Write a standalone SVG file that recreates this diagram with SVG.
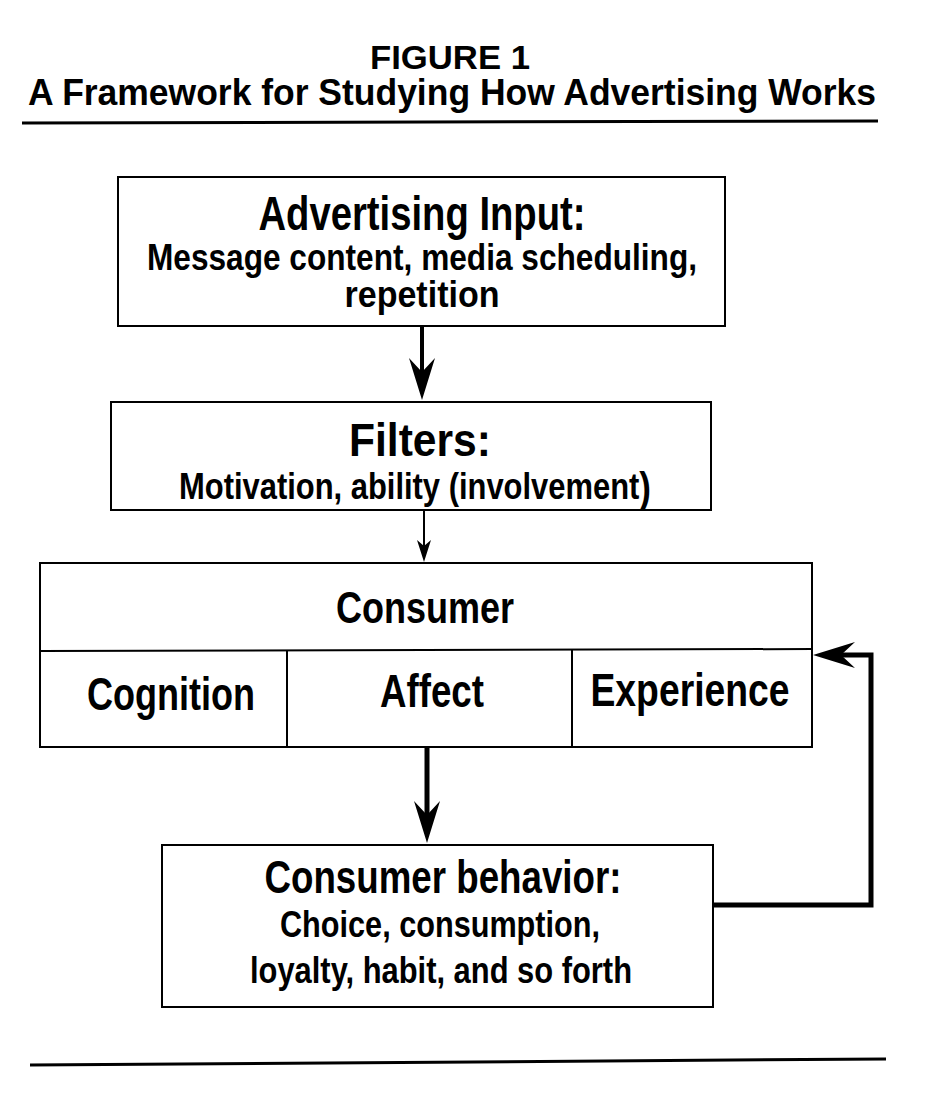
<svg xmlns="http://www.w3.org/2000/svg" width="928" height="1094" viewBox="0 0 928 1094">
<style>
.box{fill:#fff;stroke:#000;stroke-width:2}
.div{stroke:#000;stroke-width:2;fill:none}
.rule{stroke:#000;stroke-width:3;fill:none}
.t{font-family:"Liberation Sans",Arial,Helvetica,sans-serif;font-weight:bold;fill:#000;text-anchor:middle}
.conn{fill:none;stroke:#000;stroke-linejoin:miter}
.thick{stroke-width:5}
.thin{stroke-width:2}
</style>
<defs>
<marker id="ah" markerUnits="userSpaceOnUse" orient="auto" refX="0" refY="0" markerWidth="1" markerHeight="1" overflow="visible"><path d="M28,0 L-14,-13 L0,0 L-14,13 Z" fill="#000"/></marker>
<marker id="ahs" markerUnits="userSpaceOnUse" orient="auto" refX="0" refY="0" markerWidth="1" markerHeight="1" overflow="visible"><path d="M16,0 L-6,-7 L0,0 L-6,7 Z" fill="#000"/></marker>
</defs>
<rect width="928" height="1094" fill="#fff"/>
<g id="title">
<text class="t" x="450" y="69" font-size="34" textLength="160" lengthAdjust="spacingAndGlyphs">FIGURE 1</text>
<text class="t" x="452" y="105" font-size="37" textLength="848" lengthAdjust="spacingAndGlyphs">A Framework for Studying How Advertising Works</text>
<line class="rule" x1="22" y1="123" x2="878" y2="121"/>
</g>
<g id="advertising-input">
<rect class="box" x="118" y="177" width="607" height="149"/>
<text class="t" x="422" y="230" font-size="48" textLength="327" lengthAdjust="spacingAndGlyphs">Advertising Input:</text>
<text class="t" x="422" y="270" font-size="37" textLength="550" lengthAdjust="spacingAndGlyphs">Message content, media scheduling,</text>
<text class="t" x="422" y="307" font-size="37" textLength="155" lengthAdjust="spacingAndGlyphs">repetition</text>
</g>
<g id="filters">
<rect class="box" x="111" y="402" width="600" height="108"/>
<text class="t" x="420" y="456" font-size="46" textLength="142" lengthAdjust="spacingAndGlyphs">Filters:</text>
<text class="t" x="415" y="499" font-size="37" textLength="472" lengthAdjust="spacingAndGlyphs">Motivation, ability (involvement<tspan font-size="42" dy="3">)</tspan></text>
</g>
<g id="consumer">
<rect class="box" x="40" y="563" width="772" height="184"/>
<line class="div" x1="40" y1="651" x2="812" y2="649"/>
<line class="div" x1="287" y1="651" x2="287" y2="747"/>
<line class="div" x1="572" y1="649" x2="572" y2="747"/>
<text class="t" x="425" y="623" font-size="44" textLength="178" lengthAdjust="spacingAndGlyphs">Consumer</text>
<text class="t" x="171" y="710" font-size="46" textLength="168" lengthAdjust="spacingAndGlyphs">Cognition</text>
<text class="t" x="432" y="707" font-size="46" textLength="104" lengthAdjust="spacingAndGlyphs">Affect</text>
<text class="t" x="690" y="706" font-size="46" textLength="199" lengthAdjust="spacingAndGlyphs">Experience</text>
</g>
<g id="consumer-behavior">
<rect class="box" x="162" y="845" width="551" height="162"/>
<text class="t" x="443" y="893" font-size="46" textLength="357" lengthAdjust="spacingAndGlyphs">Consumer behavior:</text>
<text class="t" x="440" y="937" font-size="37" textLength="320" lengthAdjust="spacingAndGlyphs">Choice, consumption,</text>
<text class="t" x="441" y="983" font-size="37" textLength="382" lengthAdjust="spacingAndGlyphs">loyalty, habit, and so forth</text>
</g>
<g id="connectors">
<path class="conn" stroke-width="4" d="M422,326 L422,372" marker-end="url(#ah)"/>
<path class="conn thin" d="M424,510 L424,546" marker-end="url(#ahs)"/>
<path class="conn thick" d="M427,747 L427,815" marker-end="url(#ah)"/>
<path class="conn thick" d="M713,905 H871 V655 H841" marker-end="url(#ah)"/>
</g>
<g id="footer">
<line class="rule" x1="30" y1="1065" x2="886" y2="1059"/>
</g>
</svg>
